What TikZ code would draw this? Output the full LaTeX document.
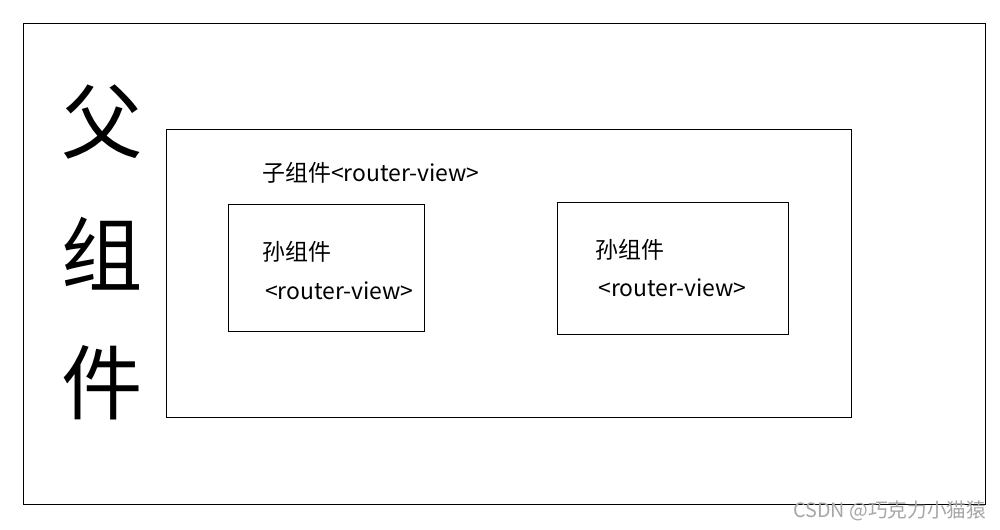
\documentclass[tikz,border=0pt]{standalone}
\usepackage{fontspec}
\setmainfont{Noto Sans CJK SC}
\newfontfamily\cjk{Noto Sans CJK SC}
\begin{document}
\begin{tikzpicture}[x=0.75pt,y=-0.75pt,
  frame/.style={draw=black,line width=0.9pt,inner sep=0pt,anchor=north west},
  big/.style={font=\cjk\fontsize{61}{61}\selectfont,inner sep=0pt,anchor=center},
  lbl/.style={font=\cjk\fontsize{17.2}{17.2}\selectfont,inner sep=0pt,anchor=base west},
  wm/.style={font=\cjk\fontsize{14.8}{14.8}\selectfont,inner sep=0pt,anchor=base west,text=black!35}]
\useasboundingbox (0,0) rectangle (1000,529);
\fill[white] (0,0) rectangle (1000,529);
\node[frame,minimum width=721.5pt,minimum height=360.75pt] (outer) at (23,23) {};
\node[frame,minimum width=513.75pt,minimum height=216pt] (child) at (166,129) {};
\node[frame,minimum width=147pt,minimum height=95.25pt] (gcL) at (228,204) {};
\node[frame,minimum width=173.25pt,minimum height=99pt] (gcR) at (557,202) {};
\node[big] (f1) at (102,122) {父};
\node[big] (f2) at (102,254) {组};
\node[big] (f3) at (102,383) {件};
\node[lbl] (ct) at (262,181) {子组件<router-view>};
\node[lbl] (lt1) at (262,260) {孙组件};
\node[lbl] (lt2) at (265,299) {<router-view>};
\node[lbl] (rt1) at (595,258) {孙组件};
\node[lbl] (rt2) at (598,296) {<router-view>};
\node[wm] (wmk) at (793,517) {CSDN @巧克力小猫猿};
\end{tikzpicture}
\end{document}
